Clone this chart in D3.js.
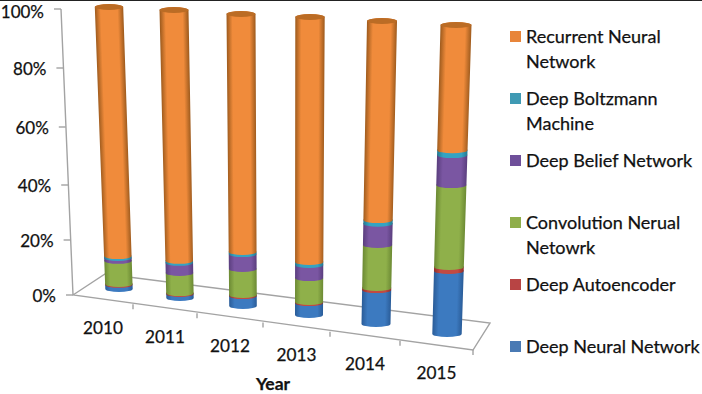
<!DOCTYPE html>
<html>
<head>
<meta charset="utf-8">
<script src="https://cdn.jsdelivr.net/npm/d3@7"></script>
<style>
  html, body { margin: 0; padding: 0; background: #fff; }
  svg { display: block; font-family: Lato, "Open Sans", sans-serif; fill: #111; }
  svg text { stroke: #111; stroke-width: 0.25px; }
</style>
</head>
<body>
<svg width="702" height="394"></svg>
<script>
const years = ["2010", "2011", "2012", "2013", "2014", "2015"];

// percent values, bottom of the stack first
const deepNeural   = [1.5, 1.4, 3.4, 4.0, 11.2, 20.4];
const autoencoder  = [0.3, 0.3, 0.4, 0.4, 0.7, 1.3];
const convolution  = [8.2, 7.0, 8.9, 8.0, 14.2, 26.5];
const beliefNet    = [1.0, 3.5, 5.1, 4.4, 7.0, 9.7];
const boltzmann    = [0.7, 0.7, 0.7, 1.0, 1.2, 1.6];
const recurrent    = [88.3, 87.1, 81.5, 82.2, 65.7, 40.5];

const stackOrder = [deepNeural, autoencoder, convolution, beliefNet, boltzmann, recurrent];

// legend runs top to bottom, so reverse of the stack
const legendNames = ["Recurrent Neural\nNetwork", "Deep Boltzmann\nMachine", "Deep Belief Network",
                     "Convolution Nerual\nNetowrk", "Deep Autoencoder", "Deep Neural Network"];
const legendColors = ["#e8853a", "#3f9ab4", "#6f4f9a", "#8fae4a", "#b84444", "#4a7ab4"];

const centerColors = ["#3c7ac0", "#c24a42", "#8fb04a", "#7a56a2", "#35a3c2", "#f08b3b"];
const edgeColors   = ["#2a5c98", "#8e2f2a", "#6c8a34", "#5a3e7e", "#25788f", "#a05c1e"];

const yTicks = [0, 20, 40, 60, 80, 100];

let svg = d3.select("svg");
let defs = svg.append("defs");

// the 3D look: piecewise scales for the perspective of the plot
const idx = d3.range(6);
const baseX = d3.scaleLinear().domain(idx).range([119, 180, 243, 309, 376, 447]);
const topX  = d3.scaleLinear().domain(idx).range([109, 174, 241, 310, 382, 456]);
const baseY = d3.scaleLinear().domain(idx).range([292, 301, 309, 318, 327, 337]);
const topY  = d3.scaleLinear().domain(idx).range([10, 13, 17, 20, 24, 28]);
const baseR = d3.scaleLinear().domain(idx).range([13.7, 13.7, 13.8, 14, 14.5, 14.7]);
const topR  = d3.scaleLinear().domain(idx).range([14.2, 14.5, 14.5, 14.7, 15, 15.5]);
const ry = 3;

const valueY = d3.scaleLinear().domain(yTicks).range([295, 240, 185, 127, 68, 9]);
const valueX = d3.scaleLinear().domain([0, 100]).range([73, 61]);
const floorX = d3.scaleLinear().domain(d3.range(7)).range([73, 133, 197, 263, 330, 400, 473]);
const floorY = d3.scaleLinear().domain([0, 6]).range([295, 350]);
const legendY = d3.scalePoint().domain(legendNames).range([36.5, 346.5]);

// top edge of the scan
svg.append("rect").attr("width", 702).attr("height", 1).attr("fill", "#222");

// floor and walls
const axisColor = "#a3a3a3";
const floorLine = d3.line();
svg.append("path")
  .attr("d", floorLine([[valueX(100), valueY(100)], [valueX(0), valueY(0)], [floorX(6), floorY(6)], [490, 323], [105, 274], [valueX(0), valueY(0)]]))
  .attr("fill", "none").attr("stroke", axisColor).attr("stroke-width", 1.4);

// y axis, each tick pushed along the slanted wall
let axisY = svg.append("g").call(d3.axisLeft(valueY).tickValues(yTicks).tickSize(7).tickFormat(d => d + "%"));
axisY.select(".domain").remove();
axisY.selectAll(".tick").attr("transform", d => `translate(${valueX(d)},${valueY(d)})`);
axisY.selectAll(".tick line").attr("stroke", axisColor).attr("stroke-width", 1.4);
// 100% sits right at the top edge, a bit lower so it stays inside
axisY.selectAll(".tick text").attr("x", -17).attr("dy", d => d === 100 ? "0.5em" : "0.42em")
  .style("font-family", "Lato, sans-serif").style("font-size", "17px").attr("fill", "#111");

// x axis ticks on the front edge of the floor
let axisX = svg.append("g").call(d3.axisBottom(floorX).tickValues(d3.range(1, 7)).tickSize(5).tickFormat(""));
axisX.select(".domain").remove();
axisX.selectAll(".tick").attr("transform", d => `translate(${floorX(d)},${floorY(d)})`);
axisX.selectAll(".tick line").attr("stroke", axisColor).attr("stroke-width", 1.4);

svg.selectAll(".year")
  .data(years)
  .enter()
  .append("text")
  .attr("class", "year")
  .attr("x", (d, i) => floorX(i + 0.5))
  .attr("y", (d, i) => floorY(i + 0.5) + 28)
  .attr("dy", "0.35em")
  .attr("text-anchor", "middle")
  .style("font-size", "17.2px")
  .text(d => d);

svg.append("text")
  .attr("x", 273).attr("y", 390)
  .attr("text-anchor", "middle")
  .style("font-size", "17.5px").style("font-weight", "bold")
  .text("Year");

function slicePath(i, f0, f1) {
  const x0 = baseX(i) + f0 * (topX(i) - baseX(i)), x1 = baseX(i) + f1 * (topX(i) - baseX(i));
  const y0 = baseY(i) + f0 * (topY(i) - baseY(i)) - ry, y1 = baseY(i) + f1 * (topY(i) - baseY(i)) - ry;
  const r0 = baseR(i) + f0 * (topR(i) - baseR(i)), r1 = baseR(i) + f1 * (topR(i) - baseR(i));
  return `M${x0 - r0},${y0} A${r0},${ry} 0 0 0 ${x0 + r0},${y0} L${x1 + r1},${y1} A${r1},${ry} 0 0 0 ${x1 - r1},${y1} Z`;
}

function addGradient(id, i, s, f0, f1) {
  const dx = topX(i) - baseX(i), dy = topY(i) - baseY(i), len = Math.hypot(dx, dy);
  const f = (f0 + f1) / 2;
  const mx = baseX(i) + f * dx, my = baseY(i) + f * dy;
  const r = baseR(i) + f * (topR(i) - baseR(i));
  const nx = -dy / len, ny = dx / len;
  let g = defs.append("linearGradient").attr("id", id).attr("gradientUnits", "userSpaceOnUse")
    .attr("x1", mx - nx * r).attr("y1", my - ny * r)
    .attr("x2", mx + nx * r).attr("y2", my + ny * r);
  g.append("stop").attr("offset", "0").attr("stop-color", edgeColors[s]);
  g.append("stop").attr("offset", "0.2").attr("stop-color", centerColors[s]);
  g.append("stop").attr("offset", "0.8").attr("stop-color", centerColors[s]);
  g.append("stop").attr("offset", "1").attr("stop-color", edgeColors[s]);
}

// cylinders, stacked bottom up so each slice covers the one under it
years.forEach((y, i) => {
  let sum = 0;
  stackOrder.forEach((vals, s) => {
    const f0 = sum / 100, f1 = (sum + vals[i]) / 100;
    sum += vals[i];
    const id = `g${i}_${s}`;
    addGradient(id, i, s, f0, f1);
    svg.append("path").attr("d", slicePath(i, f0, f1)).attr("fill", `url(#${id})`);
  });
  svg.append("ellipse")
    .attr("cx", topX(i)).attr("cy", topY(i) - ry)
    .attr("rx", topR(i)).attr("ry", ry)
    .attr("fill", "#bb6c25");
});

// legend
let legend = svg.selectAll(".legend")
  .data(legendNames)
  .enter()
  .append("g")
  .attr("class", "legend")
  .attr("transform", d => `translate(510,${legendY(d)})`);

legend.append("rect")
  .attr("y", -5.5).attr("width", 11).attr("height", 11)
  .attr("fill", (d, i) => legendColors[i]);

legend.each(function(d) {
  d.split("\n").forEach((line, k) => {
    d3.select(this).append("text")
      .attr("x", 16).attr("y", k * 25.5)
      .attr("dy", "0.35em")
      .style("font-size", "18px")
      .text(line);
  });
});
</script>
</body>
</html>
